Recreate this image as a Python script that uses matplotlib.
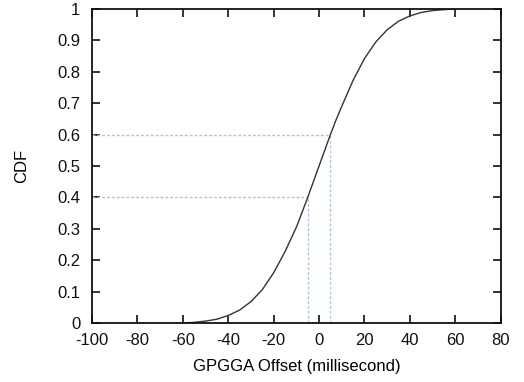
import matplotlib.pyplot as plt

# CDF of GPGGA offset
offset_ms = [-60, -55, -50, -45, -40, -35, -30, -25, -20, -15, -10, -7.5, -5,
             -2.5, 0, 2.5, 5, 7.5, 10, 15, 20, 25, 30, 35, 40, 45, 50, 55, 60]
cdf = [0.0, 0.002, 0.006, 0.012, 0.024, 0.041, 0.068, 0.106, 0.16, 0.227,
       0.305, 0.352, 0.40, 0.45, 0.50, 0.55, 0.60, 0.647, 0.69, 0.773, 0.842,
       0.895, 0.934, 0.961, 0.978, 0.989, 0.995, 0.998, 1.0]

# marker lines: (x, cdf level)
marks = [(-5, 0.4), (5, 0.6)]

x_ticks = list(range(-100, 81, 20))
y_ticks = [0, 0.1, 0.2, 0.3, 0.4, 0.5, 0.6, 0.7, 0.8, 0.9, 1]

plt.rcParams['font.family'] = ['Liberation Sans', 'DejaVu Sans']
plt.rcParams['axes.unicode_minus'] = False

fig = plt.figure(figsize=(5.24, 3.82), dpi=100)
ax = fig.add_axes([0.1756, 0.1545, 0.7799, 0.8219])

dash_color = '#a8c4e0'
for mx, my in marks:
    ax.plot([-100, mx], [my, my], color=dash_color, lw=1.0, ls=(0, (2, 1.5)))
    ax.plot([mx, mx], [0, my], color=dash_color, lw=1.0, ls=(0, (2, 1.5)))

ax.plot(offset_ms, cdf, color='#333333', lw=1.0)

ax.set_xlim(-100, 80)
ax.set_ylim(0, 1)
ax.set_xticks(x_ticks)
ax.set_yticks(y_ticks)
ax.set_yticklabels(['0' if v == 0 else ('1' if v == 1 else '%.1f' % v) for v in y_ticks])
ax.tick_params(direction='in', length=6, width=1.2, top=True, right=True,
               labelsize=12, colors='#111111')
ax.tick_params(axis='y', pad=8.5)
ax.tick_params(axis='x', pad=7)
for s in ax.spines.values():
    s.set_linewidth(1.3)
    s.set_color('#111111')

ax.set_xlabel('GPGGA Offset (millisecond)', fontsize=12, labelpad=8)
ax.set_ylabel('CDF', fontsize=12, labelpad=20)

fig.savefig('out.png', dpi=100)
